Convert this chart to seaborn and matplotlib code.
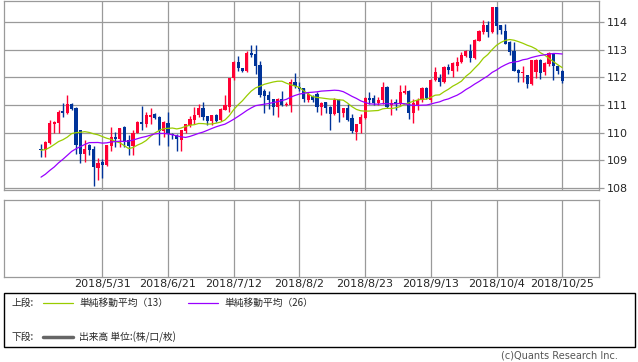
import pandas as pd
import seaborn as sns
import matplotlib.pyplot as plt
from matplotlib.patches import Rectangle
from matplotlib.lines import Line2D

# 日足 (2018/5/11 - 2018/10/25), 値は画像から読み取り
start_date = "2018-05-11"

opens = [
    109.40, 109.38, 109.63, 110.32, 110.34, 110.78, 110.70, 111.04, 110.90, 110.08,
    109.24, 109.54, 109.40, 108.72, 108.92, 108.82, 109.50, 109.84, 109.78, 110.20,
    109.74, 109.50, 110.00, 110.38, 110.32, 110.58, 110.68, 110.56, 110.05, 110.34,
    109.96, 109.92, 109.72, 110.05, 110.28, 110.46, 110.62, 110.90, 110.58, 110.41,
    110.64, 110.44, 110.80, 110.94, 111.97, 112.56, 112.32, 112.24, 112.87, 112.83,
    112.45, 111.49, 111.34, 111.20, 110.94, 111.20, 111.00, 110.98, 111.84, 111.66,
    111.60, 111.16, 111.31, 111.40, 110.94, 111.10, 110.92, 110.68, 111.16, 110.70,
    110.88, 110.53, 110.02, 110.30, 110.52, 111.25, 111.25, 111.07, 111.16, 111.66,
    110.98, 111.10, 111.07, 111.43, 111.52, 110.70, 111.00, 111.16, 111.61, 111.16,
    111.91, 111.96, 111.82, 112.36, 112.24, 112.42, 112.54, 112.78, 112.96, 112.68,
    113.32, 113.65, 113.89, 113.62, 114.54, 113.89, 113.68, 113.28, 112.96, 112.27,
    112.14, 112.09, 111.76, 112.20, 112.63, 112.18, 112.48, 112.84, 112.42, 112.24,
]
highs = [
    109.60, 109.68, 110.44, 110.40, 110.80, 111.06, 111.37, 111.08, 110.92, 110.10,
    109.72, 109.58, 109.50, 109.06, 109.05, 109.56, 110.20, 110.02, 110.18, 110.24,
    109.90, 110.08, 110.40, 110.95, 110.75, 110.90, 110.70, 110.60, 110.40, 110.76,
    110.00, 109.95, 110.10, 110.30, 110.60, 110.94, 111.04, 111.12, 110.60, 110.64,
    110.66, 110.90, 111.34, 111.97, 112.60, 112.78, 112.35, 112.95, 113.17, 113.17,
    112.60, 111.58, 111.52, 111.20, 111.24, 111.52, 111.10, 111.94, 112.14, 111.84,
    111.62, 111.48, 111.35, 111.46, 111.10, 111.10, 110.95, 111.24, 111.20, 110.90,
    111.04, 110.68, 110.32, 110.68, 111.28, 111.46, 111.36, 111.30, 111.82, 111.70,
    111.20, 111.20, 111.73, 111.72, 111.55, 111.22, 111.24, 111.64, 111.64, 111.94,
    112.36, 112.12, 112.40, 112.48, 112.56, 112.72, 112.90, 113.00, 113.20, 113.37,
    113.70, 114.06, 114.04, 114.55, 114.55, 113.90, 113.92, 113.30, 113.28, 112.30,
    112.39, 112.10, 112.64, 112.66, 112.66, 112.55, 112.90, 112.86, 112.45, 112.26,
]
lows = [
    109.12, 109.12, 109.60, 110.00, 110.00, 110.56, 110.66, 110.82, 109.24, 108.90,
    108.92, 109.18, 108.08, 108.28, 108.36, 108.78, 109.32, 109.48, 109.48, 109.48,
    109.18, 109.20, 109.98, 110.08, 110.20, 110.32, 110.50, 109.55, 109.85, 109.52,
    109.78, 109.33, 109.33, 110.00, 110.20, 110.32, 110.58, 110.46, 110.26, 110.28,
    110.38, 110.40, 110.80, 110.74, 111.90, 112.24, 112.20, 112.20, 112.75, 112.12,
    111.30, 110.70, 110.86, 110.62, 110.56, 110.95, 110.95, 110.74, 111.61, 111.50,
    111.10, 111.10, 111.10, 110.74, 110.62, 110.70, 110.10, 110.64, 110.38, 110.56,
    110.42, 110.00, 109.74, 110.00, 110.50, 111.04, 111.00, 111.00, 111.04, 110.90,
    110.64, 110.80, 111.00, 111.40, 110.50, 110.36, 110.80, 111.10, 111.20, 111.10,
    111.88, 111.70, 111.78, 112.12, 112.00, 112.24, 112.50, 112.75, 112.54, 112.65,
    113.30, 113.58, 113.46, 113.60, 113.56, 113.56, 113.20, 112.80, 112.22, 111.82,
    111.82, 111.60, 111.72, 111.96, 111.94, 112.10, 112.40, 111.90, 112.12, 111.78,
]
closes = [
    109.36, 109.65, 110.34, 110.38, 110.76, 110.72, 111.04, 110.85, 109.54, 109.24,
    109.42, 109.36, 108.74, 108.90, 108.82, 109.54, 109.84, 109.75, 110.16, 109.66,
    109.50, 110.00, 110.38, 110.32, 110.63, 110.64, 110.53, 110.05, 110.38, 109.96,
    109.90, 109.75, 110.08, 110.30, 110.50, 110.64, 110.90, 110.56, 110.41, 110.62,
    110.41, 110.86, 110.98, 111.97, 112.56, 112.32, 112.24, 112.87, 112.80, 112.42,
    111.34, 111.31, 111.16, 110.94, 111.22, 111.00, 111.04, 111.84, 111.70, 111.58,
    111.22, 111.40, 111.16, 110.94, 111.07, 110.88, 110.68, 111.18, 110.70, 110.88,
    110.44, 110.04, 110.30, 110.56, 111.25, 111.19, 111.07, 111.19, 111.66, 110.94,
    111.07, 111.04, 111.46, 111.52, 110.70, 111.06, 111.16, 111.61, 111.24, 111.91,
    112.20, 111.82, 112.36, 112.26, 112.50, 112.56, 112.80, 112.96, 112.68, 113.34,
    113.68, 113.89, 113.62, 114.54, 113.86, 113.70, 113.22, 112.90, 112.24, 112.14,
    112.20, 111.76, 112.62, 112.63, 112.14, 112.51, 112.87, 112.42, 112.24, 111.88,
]
# 表示期間より前の終値 (移動平均の計算用, 4/6 - 5/10)
prior_closes = [
    106.93, 106.77, 107.19, 106.80, 107.35, 107.36, 107.13, 107.04, 107.24, 107.38,
    107.63, 108.70, 108.82, 109.40, 109.30, 109.04, 109.34, 109.85, 109.82, 109.18,
    109.10, 109.08, 109.11, 109.72, 109.39,
]

tick_labels = ["2018/5/31", "2018/6/21", "2018/7/12", "2018/8/2",
               "2018/8/23", "2018/9/13", "2018/10/4", "2018/10/25"]
y_ticks = [108, 109, 110, 111, 112, 113, 114]

UP = "#ff0033"
DOWN = "#003399"
MA13 = "#99cc00"
MA26 = "#9900ff"
GRID = "#9a9a9a"

dates = pd.bdate_range(start_date, periods=len(closes))
df = pd.DataFrame({"date": dates, "open": opens, "high": highs,
                   "low": lows, "close": closes})
df["idx"] = range(len(df))

all_close = pd.Series(prior_closes + closes)
df["sma13"] = all_close.rolling(13).mean().iloc[len(prior_closes):].values
df["sma26"] = all_close.rolling(26).mean().iloc[len(prior_closes):].values

label_dates = [pd.Timestamp(s.replace("/", "-")) for s in tick_labels]
tick_idx = [int(df.index[df["date"] == d][0]) for d in label_dates]

sns.set_style("white")
plt.rcParams["font.family"] = ["DejaVu Sans", "Noto Sans CJK JP"]

W, H = 638, 362
fig = plt.figure(figsize=(W / 100, H / 100), dpi=100)


def fig_rect(x0, y0, x1, y1):
    return [x0 / W, 1 - y1 / H, (x1 - x0) / W, (y1 - y0) / H]


ax = fig.add_axes(fig_rect(4, 1, 599, 190))
ax2 = fig.add_axes(fig_rect(4, 200, 599, 277))

xlim = (-8.45, 127.4)

# ローソク足
up = df["close"] >= df["open"]
colors = [UP if u else DOWN for u in up]
ax.vlines(df["idx"], df["low"], df["high"], colors=colors, lw=1.0, zorder=2)
body_bottom = df[["open", "close"]].min(axis=1)
body_h = (df["close"] - df["open"]).abs().clip(lower=0.03)
ax.bar(df["idx"], body_h, bottom=body_bottom, width=0.72, color=colors,
       linewidth=0, zorder=2)

# 移動平均
sns.lineplot(data=df, x="idx", y="sma13", color=MA13, lw=0.9, ax=ax, zorder=3)
sns.lineplot(data=df, x="idx", y="sma26", color=MA26, lw=0.9, ax=ax, zorder=3)

ax.set_xlim(*xlim)
ax.set_ylim(107.92, 114.76)
ax.set_xlabel("")
ax.set_ylabel("")
ax.set_xticks(tick_idx)
ax.set_xticklabels([])
ax.set_yticks(y_ticks)
ax.yaxis.tick_right()
ax.tick_params(axis="y", length=3.5, width=0.9, color=GRID, labelsize=8, pad=2)
ax.tick_params(axis="x", length=0)
ax.grid(True, color=GRID, lw=0.9)
ax.set_axisbelow(True)
for s in ax.spines.values():
    s.set_color(GRID)
    s.set_linewidth(0.9)

# 下段 (出来高なし)
ax2.set_xlim(*xlim)
ax2.set_ylim(0, 1)
ax2.set_yticks([])
ax2.set_xticks(tick_idx)
ax2.set_xticklabels(tick_labels, fontsize=8)
ax2.tick_params(axis="x", length=0, pad=1.5)
ax2.grid(True, axis="x", color=GRID, lw=0.9)
for s in ax2.spines.values():
    s.set_color(GRID)
    s.set_linewidth(0.9)

# 凡例
fig.add_artist(Rectangle((4 / W, 1 - 347 / H), 631 / W, 54 / H,
                         transform=fig.transFigure, fill=False,
                         ec="black", lw=1.0))
jp = ["Noto Sans CJK JP", "DejaVu Sans"]
y1 = 1 - 303 / H
y2 = 1 - 337 / H
fig.text(11 / W, y1, "上段:", fontsize=7, family=jp, va="center")
fig.add_artist(Line2D([43 / W, 73 / W], [y1, y1], color=MA13, lw=0.9))
fig.text(79 / W, y1, "単純移動平均（13）", fontsize=7, family=jp, va="center")
fig.add_artist(Line2D([188 / W, 218 / W], [y1, y1], color=MA26, lw=0.9))
fig.text(224 / W, y1, "単純移動平均（26）", fontsize=7, family=jp, va="center")
fig.text(11 / W, y2, "下段:", fontsize=7, family=jp, va="center")
fig.add_artist(Line2D([43 / W, 73 / W], [y2, y2], color="#666666", lw=2.5))
fig.text(79 / W, y2, "出来高 単位:(株/口/枚)", fontsize=7, family=jp, va="center")

fig.text(618 / W, 1 - 356 / H, "(c)Quants Research Inc.", fontsize=7,
         color="#555555", ha="right", va="center")

fig.savefig("out.png", dpi=100)
plt.close(fig)
